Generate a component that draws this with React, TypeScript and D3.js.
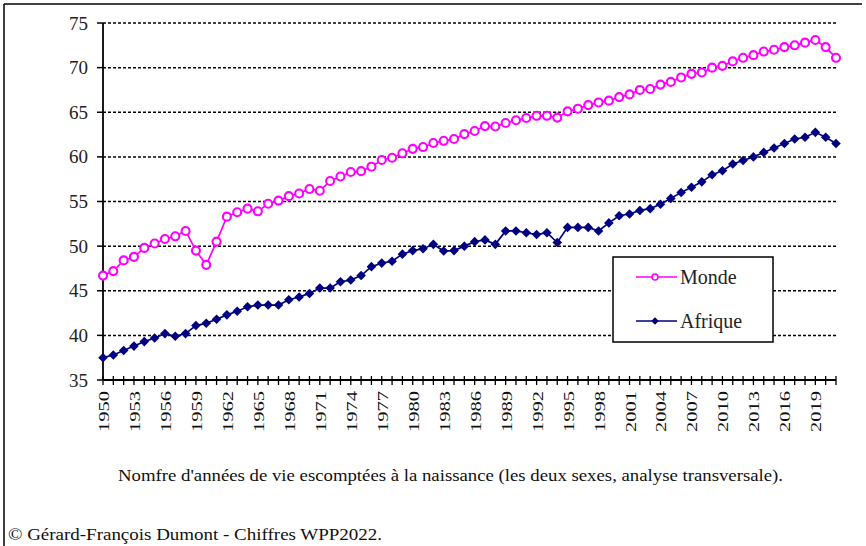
import React from "react";
import * as d3 from "d3";

const years = d3.range(1950, 2022);

const monde = [
  46.7, 47.2, 48.4, 48.8, 49.8, 50.3, 50.8, 51.1, 51.7, 49.5,
  47.9, 50.5, 53.3, 53.8, 54.2, 53.9, 54.75, 55.1, 55.6, 55.9,
  56.4, 56.2, 57.3, 57.8, 58.3, 58.4, 58.9, 59.65, 59.9, 60.4,
  60.9, 61.1, 61.55, 61.8, 62.0, 62.55, 62.9, 63.45, 63.4, 63.8,
  64.1, 64.35, 64.6, 64.6, 64.4, 65.1, 65.4, 65.8, 66.1, 66.3,
  66.7, 67.0, 67.5, 67.6, 68.1, 68.4, 68.9, 69.3, 69.45, 70.0,
  70.2, 70.7, 71.1, 71.4, 71.8, 72.0, 72.3, 72.5, 72.8, 73.1,
  72.3, 71.1,
];

const afrique = [
  37.5, 37.8, 38.3, 38.8, 39.3, 39.7, 40.2, 39.9, 40.2, 41.1,
  41.35, 41.8, 42.3, 42.7, 43.2, 43.4, 43.4, 43.4, 44.0, 44.3,
  44.7, 45.3, 45.3, 46.0, 46.2, 46.7, 47.7, 48.1, 48.3, 49.1,
  49.5, 49.7, 50.2, 49.45, 49.5, 50.0, 50.5, 50.7, 50.2, 51.7,
  51.7, 51.5, 51.3, 51.5, 50.4, 52.1, 52.1, 52.1, 51.7, 52.6,
  53.4, 53.6, 54.0, 54.2, 54.7, 55.35, 56.0, 56.6, 57.2, 58.0,
  58.45, 59.2, 59.6, 60.0, 60.5, 61.0, 61.5, 62.0, 62.2, 62.75,
  62.2, 61.5,
];

const yTicks = [35, 40, 45, 50, 55, 60, 65, 70, 75];
const xLabelYears = years.filter((y) => (y - 1950) % 3 === 0);

const MAGENTA = "#FF00FF";
const NAVY = "#000080";
const FONT = "'Liberation Serif', 'Times New Roman', serif";

export default function App() {
  const width = 866;
  const height = 546;
  const left = 103;
  const right = 836;
  const top = 23;
  const bottom = 380;

  const x = d3.scalePoint<number>().domain(years).range([left, right]);
  const y = d3.scaleLinear().domain([35, 75]).range([bottom, top]);

  const line = d3
    .line<number>()
    .x((_, i) => x(years[i]) as number)
    .y((d) => y(d));

  const diamond = d3.symbol().type(d3.symbolSquare).size(46)();
  const diamondSmall = d3.symbol().type(d3.symbolSquare).size(28)();

  return (
    <svg
      width={width}
      height={height}
      style={{ position: "absolute", left: 0, top: 0, background: "#fff" }}
      fontFamily={FONT}
    >
      <rect x={0} y={0} width={width} height={height} fill="#fff" />
      {/* frame */}
      <line x1={4} y1={4} x2={862} y2={4} stroke="#000" strokeWidth={1.5} />
      <line x1={4} y1={4} x2={4} y2={546} stroke="#000" strokeWidth={1.5} />

      {/* grid */}
      {yTicks.slice(1).map((t) => (
        <line
          key={t}
          x1={left}
          x2={right}
          y1={y(t)}
          y2={y(t)}
          stroke="#000"
          strokeWidth={1.5}
          strokeDasharray="3,2"
        />
      ))}

      {/* y axis */}
      <line x1={left} x2={left} y1={top} y2={bottom} stroke="#000" strokeWidth={1.8} />
      {yTicks.map((t) => (
        <g key={t}>
          <line x1={left - 6} x2={left} y1={y(t)} y2={y(t)} stroke="#000" strokeWidth={1.5} />
          <text
            x={88}
            y={y(t)}
            textAnchor="end"
            dominantBaseline="central"
            fontSize={19}
            fill="#222"
          >
            {t}
          </text>
        </g>
      ))}

      {/* x axis */}
      <line x1={left} x2={right} y1={bottom} y2={bottom} stroke="#000" strokeWidth={1.8} />
      {years.map((yr) => (
        <line
          key={yr}
          x1={x(yr)}
          x2={x(yr)}
          y1={bottom - 4}
          y2={bottom + 5}
          stroke="#000"
          strokeWidth={1.3}
        />
      ))}
      {xLabelYears.map((yr) => (
        <text
          key={yr}
          transform={`translate(${(x(yr) as number) + 1},${bottom + 11}) rotate(-90)`}
          textAnchor="end"
          dominantBaseline="central"
          fontSize={15}
          textLength={41}
          lengthAdjust="spacingAndGlyphs"
          fill="#111"
        >
          {yr}
        </text>
      ))}

      {/* series */}
      <path d={line(monde) || ""} fill="none" stroke={MAGENTA} strokeWidth={1.7} />
      <path d={line(afrique) || ""} fill="none" stroke={NAVY} strokeWidth={1.7} />
      {monde.map((v, i) => (
        <circle
          key={i}
          cx={x(years[i])}
          cy={y(v)}
          r={4}
          fill="#fff"
          stroke={MAGENTA}
          strokeWidth={2.1}
        />
      ))}
      {afrique.map((v, i) => (
        <path
          key={i}
          d={diamond || ""}
          transform={`translate(${x(years[i])},${y(v)}) rotate(45)`}
          fill={NAVY}
        />
      ))}

      {/* legend */}
      <rect x={613} y={257} width={160} height={85} fill="#fff" stroke="#000" strokeWidth={1.5} />
      <line x1={636} x2={677} y1={277} y2={277} stroke={MAGENTA} strokeWidth={1.6} />
      <circle cx={655} cy={277} r={3} fill="#fff" stroke={MAGENTA} strokeWidth={1.6} />
      <text x={680} y={277} dominantBaseline="central" fontSize={20} fill="#222">
        Monde
      </text>
      <line x1={636} x2={677} y1={321} y2={321} stroke={NAVY} strokeWidth={1.6} />
      <path d={diamondSmall || ""} transform="translate(655,321) rotate(45)" fill={NAVY} />
      <text x={680} y={321} dominantBaseline="central" fontSize={20} fill="#222">
        Afrique
      </text>

      {/* captions */}
      <text
        x={118}
        y={481}
        fontSize={16}
        textLength={665}
        lengthAdjust="spacingAndGlyphs"
        fill="#111"
      >
        Nomfre d'années de vie escomptées à la naissance (les deux sexes, analyse transversale).
      </text>
      <text
        x={8}
        y={540}
        fontSize={16}
        textLength={374}
        lengthAdjust="spacingAndGlyphs"
        fill="#111"
      >
        © Gérard-François Dumont - Chiffres WPP2022.
      </text>
    </svg>
  );
}
